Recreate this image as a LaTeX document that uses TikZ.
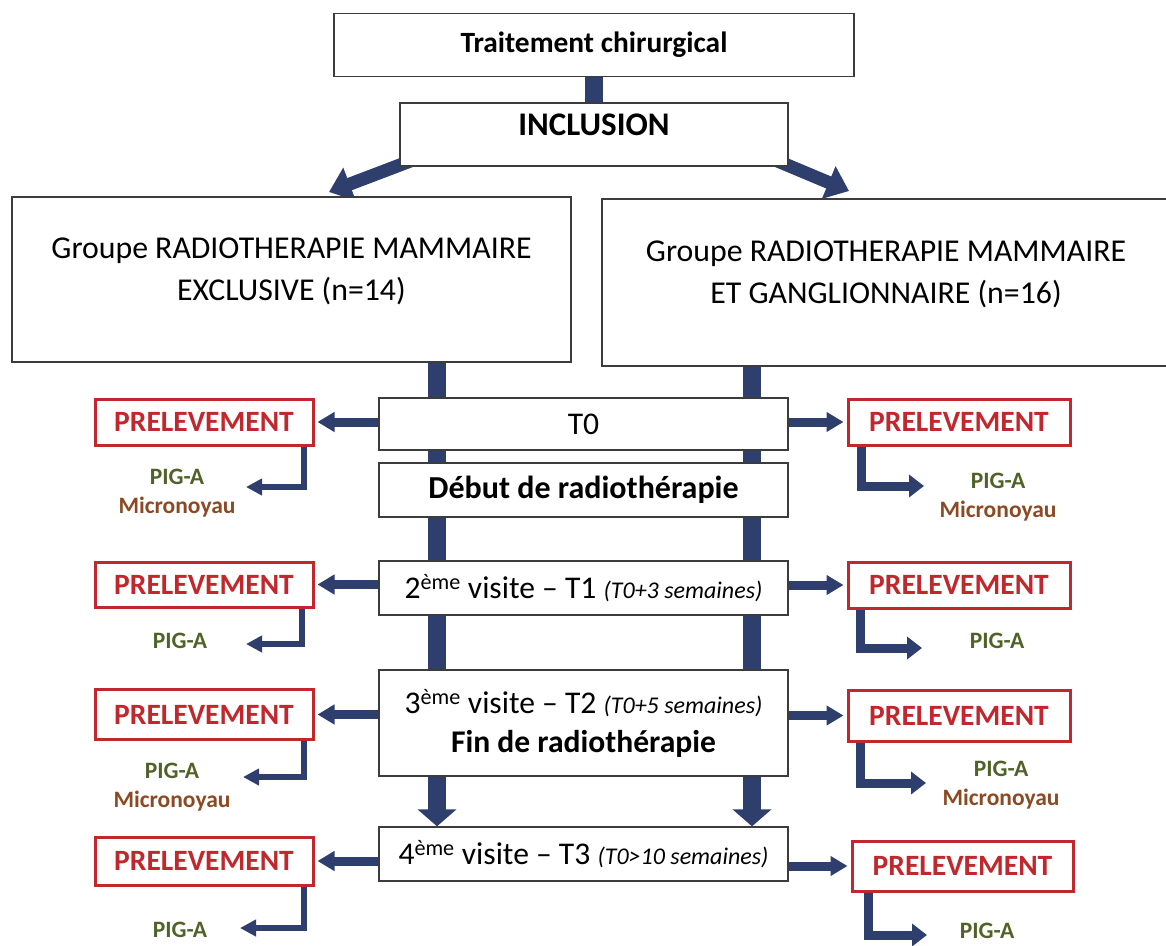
\documentclass[tikz,border=0pt]{standalone}
\usepackage{fontspec}
\setmainfont{Carlito}
\usetikzlibrary{arrows.meta,backgrounds}
\definecolor{FlowNavy}{HTML}{2E3F6E}
\definecolor{FlowRed}{HTML}{C0282D}
\definecolor{FlowFrame}{HTML}{3C3C3C}
\definecolor{FlowGreen}{HTML}{4F6228}
\definecolor{FlowBrown}{HTML}{8B4A23}
\newcommand{\visitfont}{\fontsize{31.6}{39}\selectfont}
\newcommand{\delayfont}{\fontsize{24}{28}\selectfont\itshape}

\begin{document}
\begin{tikzpicture}[x=1pt,y=-1pt,
    box/.style={draw=FlowFrame,line width=1.3pt,fill=white,inner sep=0pt,align=center},
    stepbox/.style={box,minimum width=409pt,minimum height=54pt,font=\visitfont},
    prel/.style={draw=FlowRed,line width=3pt,fill=white,inner sep=0pt,minimum width=218pt,
      text=FlowRed,font=\fontsize{29.5}{34}\selectfont\bfseries},
    samp/.style={align=center,inner sep=0pt,text=FlowGreen,font=\fontsize{23.5}{29}\selectfont\bfseries},
    bar/.style={FlowNavy,line width=18pt,-{Triangle[length=17pt,width=38pt]}},
    diag/.style={FlowNavy,line width=13pt,-{Triangle[length=22pt,width=34pt]}},
    harrow/.style={FlowNavy,line width=9pt,-{Triangle[length=17pt,width=19pt]},shorten >=3pt},
    elbowL/.style={FlowNavy,line width=6pt,-{Triangle[length=16pt,width=16pt]}},
    elbowR/.style={FlowNavy,line width=9pt,-{Triangle[length=15pt,width=22pt]}}]
  \useasboundingbox (0,0) rectangle (1166,945);

  % top of the flow
  \node[box,minimum width=520pt,minimum height=63pt,font=\fontsize{29.4}{34}\selectfont\bfseries]
    (trait) at (594,45) {Traitement chirurgical};
  \node[box,minimum width=388pt,minimum height=63pt,font=\fontsize{33}{38}\selectfont\bfseries,text depth=19pt]
    (incl) at (594,134.5) {INCLUSION};
  \node[box,minimum width=559pt,minimum height=165pt,font=\fontsize{31.8}{42}\selectfont,text depth=20pt]
    (grpL) at (291.5,279.5) {Groupe RADIOTHERAPIE MAMMAIRE\\EXCLUSIVE (n=14)};
  \node[box,minimum width=568pt,minimum height=167pt,font=\fontsize{31.8}{42}\selectfont,text depth=20pt]
    (grpR) at (886,282.5) {Groupe RADIOTHERAPIE MAMMAIRE\\ET GANGLIONNAIRE (n=16)};

  % visits
  \node[stepbox,minimum height=52pt] (t0) at (583.5,424) {T0};
  \node[stepbox,font=\fontsize{32}{38}\selectfont\bfseries] (debut) at (583.5,490) {Début de radiothérapie};
  \node[stepbox] (t1) at (583.5,588) {2\textsuperscript{ème} visite – T1 {\delayfont(T0+3 semaines)}};
  \node[stepbox,minimum height=106pt] (t2) at (583.5,723)
    {3\textsuperscript{ème} visite – T2 {\delayfont(T0+5 semaines)}\\{\bfseries Fin de radiothérapie}};
  \node[stepbox] (t3) at (583.5,854) {4\textsuperscript{ème} visite – T3 {\delayfont(T0>10 semaines)}};

  % samplings
  \node[prel,minimum height=46pt] (pL1) at (204,422) {PRELEVEMENT};
  \node[prel,minimum height=45pt] (pL2) at (204,584.5) {PRELEVEMENT};
  \node[prel,minimum height=50pt] (pL3) at (204,714.5) {PRELEVEMENT};
  \node[prel,minimum height=48pt] (pL4) at (204,861) {PRELEVEMENT};
  \node[prel,minimum height=46pt,minimum width=222pt] (pR1) at (959,422) {PRELEVEMENT};
  \node[prel,minimum height=46pt,minimum width=222pt] (pR2) at (959,585) {PRELEVEMENT};
  \node[prel,minimum height=51pt,minimum width=222pt] (pR3) at (959,715.5) {PRELEVEMENT};
  \node[prel,minimum height=50pt,minimum width=221pt] (pR4) at (962.5,866) {PRELEVEMENT};

  \node[samp] (sL1) at (177,493) {PIG-A\\\textcolor{FlowBrown}{Micronoyau}};
  \node[samp] (sL2) at (180,641) {PIG-A};
  \node[samp] (sL3) at (172,787) {PIG-A\\\textcolor{FlowBrown}{Micronoyau}};
  \node[samp] (sL4) at (180,930) {PIG-A};
  \node[samp] (sR1) at (998,497) {PIG-A\\\textcolor{FlowBrown}{Micronoyau}};
  \node[samp] (sR2) at (997,641) {PIG-A};
  \node[samp] (sR3) at (1001,785.5) {PIG-A\\\textcolor{FlowBrown}{Micronoyau}};
  \node[samp] (sR4) at (987,931) {PIG-A};

  % connectors
  \coordinate (colL) at (437,0);
  \coordinate (colR) at (752,0);
  \coordinate (inclL) at (329,192);
  \coordinate (inclR) at (849,191);
  \begin{scope}[on background layer]
    \draw[FlowNavy,line width=18pt] (trait.south) -- (incl.north);
    \draw[diag] ([xshift=12pt,yshift=6pt]incl.south west) -- (inclL);
    \draw[diag] ([xshift=-12pt,yshift=6pt]incl.south east) -- (inclR);
    \draw[bar] (grpL.south -| colL) -- (t3.north -| colL);
    \draw[bar] (grpR.south -| colR) -- (t3.north -| colR);
  \end{scope}

  \draw[harrow] (pL1.east -| t0.west) -- (pL1.east);
  \draw[harrow] (pL2.east -| t1.west) -- (pL2.east);
  \draw[harrow] (pL3.east -| t2.west) -- (pL3.east);
  \draw[harrow] (pL4.east -| t3.west) -- (pL4.east);
  \draw[harrow] (pR1.west -| t0.east) -- (pR1.west);
  \draw[harrow] (pR2.west -| t1.east) -- (pR2.west);
  \draw[harrow] (pR3.west -| t2.east) -- (pR3.west);
  \draw[harrow] (pR4.west -| t3.east) -- (pR4.west);

  \coordinate (tipL1) at (246,487);
  \coordinate (tipL2) at (246,644);
  \coordinate (tipL3) at (243,777);
  \coordinate (tipL4) at (240,928);
  \coordinate (tipR1) at (924,486);
  \coordinate (tipR2) at (922,648);
  \coordinate (tipR3) at (926,783);
  \coordinate (tipR4) at (927,935);
  \draw[elbowL] ([xshift=-11pt]pL1.south east) |- (tipL1);
  \draw[elbowL] ([xshift=-13pt]pL2.south east) |- (tipL2);
  \draw[elbowL] ([xshift=-11pt]pL3.south east) |- (tipL3);
  \draw[elbowL] ([xshift=-11pt]pL4.south east) |- (tipL4);
  \draw[elbowR] ([xshift=15pt]pR1.south west) |- (tipR1);
  \draw[elbowR] ([xshift=14pt]pR2.south west) |- (tipR2);
  \draw[elbowR] ([xshift=14pt]pR3.south west) |- (tipR3);
  \draw[elbowR] ([xshift=18pt]pR4.south west) |- (tipR4);
\end{tikzpicture}
\end{document}
